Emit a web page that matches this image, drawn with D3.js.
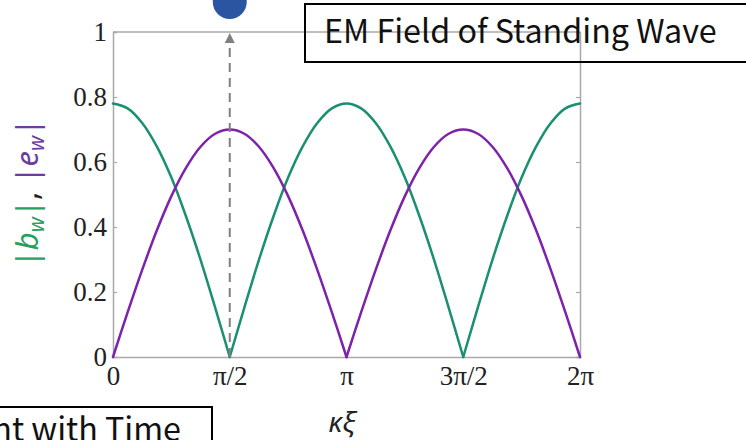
<!DOCTYPE html>
<html>
<head>
<meta charset="utf-8">
<script src="https://cdn.jsdelivr.net/npm/d3@7"></script>
<style>
  html, body { margin: 0; padding: 0; background: #fff; }
  svg { display: block; }
</style>
</head>
<body>
<svg id="chart" width="746" height="440"></svg>
<script>
// Position along the wave, in units of π
const kxi = [0, 0.0625, 0.125, 0.1875, 0.25, 0.3125, 0.375, 0.4375, 0.5,
  0.5625, 0.625, 0.6875, 0.75, 0.8125, 0.875, 0.9375, 1,
  1.0625, 1.125, 1.1875, 1.25, 1.3125, 1.375, 1.4375, 1.5,
  1.5625, 1.625, 1.6875, 1.75, 1.8125, 1.875, 1.9375, 2];

// Magnetic field amplitude |b_w|
const bw = [0.78, 0.765, 0.72, 0.648, 0.552, 0.433, 0.299, 0.152, 0,
  0.152, 0.299, 0.433, 0.552, 0.648, 0.72, 0.765, 0.78,
  0.765, 0.72, 0.648, 0.552, 0.433, 0.299, 0.152, 0,
  0.152, 0.299, 0.433, 0.552, 0.648, 0.72, 0.765, 0.78];

// Electric field amplitude |e_w|
const ew = [0, 0.137, 0.268, 0.389, 0.495, 0.582, 0.647, 0.687, 0.70,
  0.687, 0.647, 0.582, 0.495, 0.389, 0.268, 0.137, 0,
  0.137, 0.268, 0.389, 0.495, 0.582, 0.647, 0.687, 0.70,
  0.687, 0.647, 0.582, 0.495, 0.389, 0.268, 0.137, 0];

const xTicks = [0, 0.5, 1, 1.5, 2];
const xTickLabels = ["0", "π/2", "π", "3π/2", "2π"];
const yTicks = [0, 0.2, 0.4, 0.6, 0.8, 1];
const yTickLabels = ["0", "0.2", "0.4", "0.6", "0.8", "1"];

const markerX = 0.5;   // position of the dot / arrow (π/2)
const titleText = "EM Field of Standing Wave";
const noteText = "Movement with Time";

const svg = d3.select("#chart");
const plotL = 113, plotR = 580, plotT = 32, plotB = 357;

const x = d3.scaleLinear().domain([0, 2]).range([plotL, plotR]);
const y = d3.scaleLinear().domain([0, 1]).range([plotB, plotT]);

const frameColor = "#a9a9a9";
const green = "#1b8f72";
const purple = "#7d22aa";
const tickFont = "'Liberation Serif', serif";

// Frame: left axis with labels, right axis, top and bottom lines
const yAxis = d3.axisLeft(y).tickValues(yTicks)
  .tickFormat((d, i) => yTickLabels[i]).tickSize(-4).tickPadding(6);
const gy = svg.append("g").attr("transform", `translate(${plotL},0)`).call(yAxis);
gy.select(".domain").attr("stroke", frameColor).attr("stroke-width", 1.5);
gy.selectAll(".tick line").attr("stroke", frameColor).attr("stroke-width", 1.2);
gy.selectAll(".tick text").attr("font-family", tickFont)
  .attr("font-size", 27).attr("fill", "#222");

const yAxisR = d3.axisRight(y).tickValues(yTicks).tickFormat("").tickSize(-4);
const gyr = svg.append("g").attr("transform", `translate(${plotR},0)`).call(yAxisR);
gyr.select(".domain").attr("stroke", frameColor).attr("stroke-width", 1.5);
gyr.selectAll(".tick line").attr("stroke", frameColor).attr("stroke-width", 1.2);

const xAxis = d3.axisBottom(x).tickValues(xTicks)
  .tickFormat((d, i) => xTickLabels[i]).tickSize(0).tickPadding(9);
const gx = svg.append("g").attr("transform", `translate(0,${plotB})`).call(xAxis);
gx.select(".domain").attr("stroke", frameColor).attr("stroke-width", 1.5);
gx.selectAll(".tick text").attr("font-family", tickFont)
  .attr("font-size", 27).attr("fill", "#222");

svg.append("line")
  .attr("x1", x(0)).attr("x2", x(2)).attr("y1", y(1)).attr("y2", y(1))
  .attr("stroke", frameColor).attr("stroke-width", 1.5);

// Split a series into arches at its zeros so the cusps stay sharp
function arches(vals) {
  const out = [];
  let cur = [];
  vals.forEach((v, i) => {
    cur.push([kxi[i], v]);
    if (v === 0 && cur.length > 1) { out.push(cur); cur = [[kxi[i], v]]; }
  });
  if (cur.length > 1) out.push(cur);
  return out;
}

const line = d3.line().x(d => x(d[0])).y(d => y(d[1])).curve(d3.curveCatmullRom.alpha(0.5));

[[bw, green], [ew, purple]].forEach(([vals, col]) => {
  svg.append("g").selectAll("path").data(arches(vals)).join("path")
    .attr("d", line).attr("fill", "none")
    .attr("stroke", col).attr("stroke-width", 2.5)
    .attr("stroke-linejoin", "round").attr("stroke-linecap", "round");
});

// Dashed arrow at π/2 pointing up to the dot
const ax = x(markerX);
svg.append("line")
  .attr("x1", ax).attr("x2", ax).attr("y1", y(0)).attr("y2", y(1) + 10)
  .attr("stroke", "#808080").attr("stroke-width", 2)
  .attr("stroke-dasharray", "9,6");
svg.append("path")
  .attr("d", `M${ax},${y(1) + 1} L${ax - 5},${y(1) + 11} L${ax + 5},${y(1) + 11} Z`)
  .attr("fill", "#808080");

svg.append("circle").attr("cx", ax).attr("cy", 2).attr("r", 17)
  .attr("fill", "#2c55a1");

// Title box
const boxFont = "'Noto Sans CJK JP', 'Noto Sans', sans-serif";
svg.append("rect").attr("x", 305).attr("y", 4).attr("width", 470).attr("height", 58)
  .attr("fill", "none").attr("stroke", "#000").attr("stroke-width", 2);
const title = svg.append("text").attr("x", 324).attr("y", 43)
  .attr("font-family", boxFont).attr("font-size", 30).attr("fill", "#111")
  .text(titleText);
const tw = title.node().getComputedTextLength();
title.attr("font-size", 30 * 393 / tw);

// Note box, running off the lower-left edge
svg.append("rect").attr("x", -40).attr("y", 407).attr("width", 252).attr("height", 60)
  .attr("fill", "none").attr("stroke", "#000").attr("stroke-width", 2);
svg.append("text").attr("x", 181).attr("y", 441).attr("text-anchor", "end")
  .attr("font-family", boxFont).attr("font-size", title.attr("font-size"))
  .attr("fill", "#111").text(noteText);

// Axis titles
svg.append("text").attr("x", 342).attr("y", 432).attr("text-anchor", "middle")
  .attr("font-family", "'Noto Sans', sans-serif").attr("font-style", "italic")
  .attr("font-size", 28).attr("fill", "#222").text("κξ");

const yl = svg.append("text")
  .attr("transform", "translate(38,193) rotate(-90)")
  .attr("text-anchor", "middle")
  .attr("font-family", "'Noto Sans', sans-serif").attr("font-size", 31);
const lgreen = "#27a05f", lpurple = "#6c3d9c";
yl.append("tspan").attr("fill", lgreen).text("|");
yl.append("tspan").attr("fill", lgreen).attr("font-style", "italic").text("b");
yl.append("tspan").attr("fill", lgreen).attr("font-style", "italic")
  .attr("font-size", 21).attr("dy", 6).text("w");
yl.append("tspan").attr("fill", lgreen).attr("dy", -6).text("|");
yl.append("tspan").attr("fill", "#222").text(", ");
yl.append("tspan").attr("fill", lpurple).text("|");
yl.append("tspan").attr("fill", lpurple).attr("font-style", "italic").text("e");
yl.append("tspan").attr("fill", lpurple).attr("font-style", "italic")
  .attr("font-size", 21).attr("dy", 6).text("w");
yl.append("tspan").attr("fill", lpurple).attr("dy", -6).text("|");
</script>
</body>
</html>
